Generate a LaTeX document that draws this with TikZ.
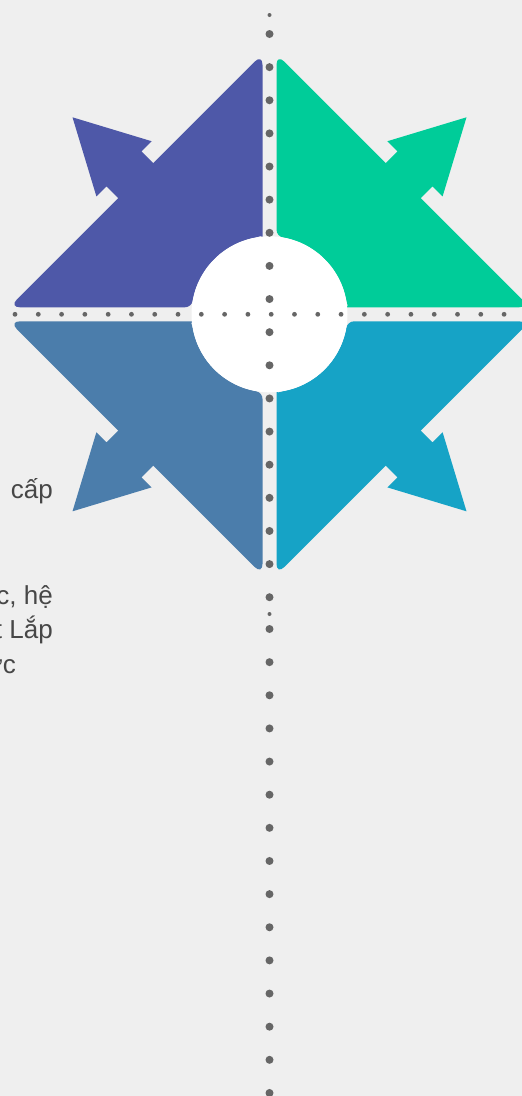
\documentclass[tikz,border=0pt]{standalone}
\usepackage{fontspec}
\setmainfont{Liberation Sans}
\usepackage{tikz}

\begin{document}
\begin{tikzpicture}[
    x=1pt, y=1pt,
    txt/.style={font=\fontsize{26}{34}\selectfont, text=txtgray,
                inner sep=0pt, anchor=base east},
    dotbig/.style={fill=dotgray},
    dotsmall/.style={fill=dotgray},
]
% ---- colours ----
\definecolor{bgc}{HTML}{EFEFEF}       % page
\definecolor{qpurple}{HTML}{4E58A8}   % top left
\definecolor{qgreen}{HTML}{00CC99}    % top right
\definecolor{qsteel}{HTML}{4B7DAB}    % bottom left
\definecolor{qcyan}{HTML}{16A3C6}     % bottom right
\definecolor{dotgray}{HTML}{666666}
\definecolor{txtgray}{HTML}{474747}

% ---- page ----
\fill[bgc] (0,0) rectangle (522,-1096);
\useasboundingbox (0,0) rectangle (522,-1096);
\coordinate (cen) at (269.5,-314.3);

% ---- four quadrants with their arrows ----
\foreach \ang/\col in {0/qgreen, 90/qpurple, 180/qsteel, 270/qcyan} {
  \begin{scope}[shift={(cen)}, rotate=\ang]
    \fill[\col] [rounded corners=11pt] (7,84.68) -- (7,260.5) -- (260.5,7)
      -- (84.68,7) [sharp corners]
      arc[start angle=270, end angle=190.05, radius=8]
      arc[start angle=10.05, end angle=79.95, radius=78]
      arc[start angle=259.95, end angle=180, radius=8] -- cycle;
    \begin{scope}[rotate=45]
      \fill[\col] (185,-24.75) -- (205.8,-24.75) -- (205.8,-39) -- (278.6,0)
        -- (205.8,39) -- (205.8,24.75) -- (185,24.75) -- cycle;
    \end{scope}
  \end{scope}
}

% ---- centre disc ----
\fill[white] (cen) circle (78);

% ---- dotted guides ----
\foreach \k in {0,...,21}
  \fill[dotsmall] ({15+23.29*\k},-314.3) circle (2.4);
\fill[dotsmall] (269.5,-15) circle (2);
\foreach \k in {0,...,17}
  \fill[dotbig] (269.5,{-34-33.13*\k}) circle (4);
\fill[dotsmall] (269.5,-614) circle (2);
\foreach \k in {0,...,14}
  \fill[dotbig] (269.5,{-629-33.14*\k}) circle (4);

% ---- text cut by the left edge ----
\node[txt] (tCap)  at (53,-498)   {cấp};
\node[txt] (tHe)   at (53,-604)   {học, hệ};
\node[txt] (tLap)  at (53,-638.5) {đặt Lắp};
\node[txt] (tThuc) at (16,-673)   {thức};
\end{tikzpicture}
\end{document}
